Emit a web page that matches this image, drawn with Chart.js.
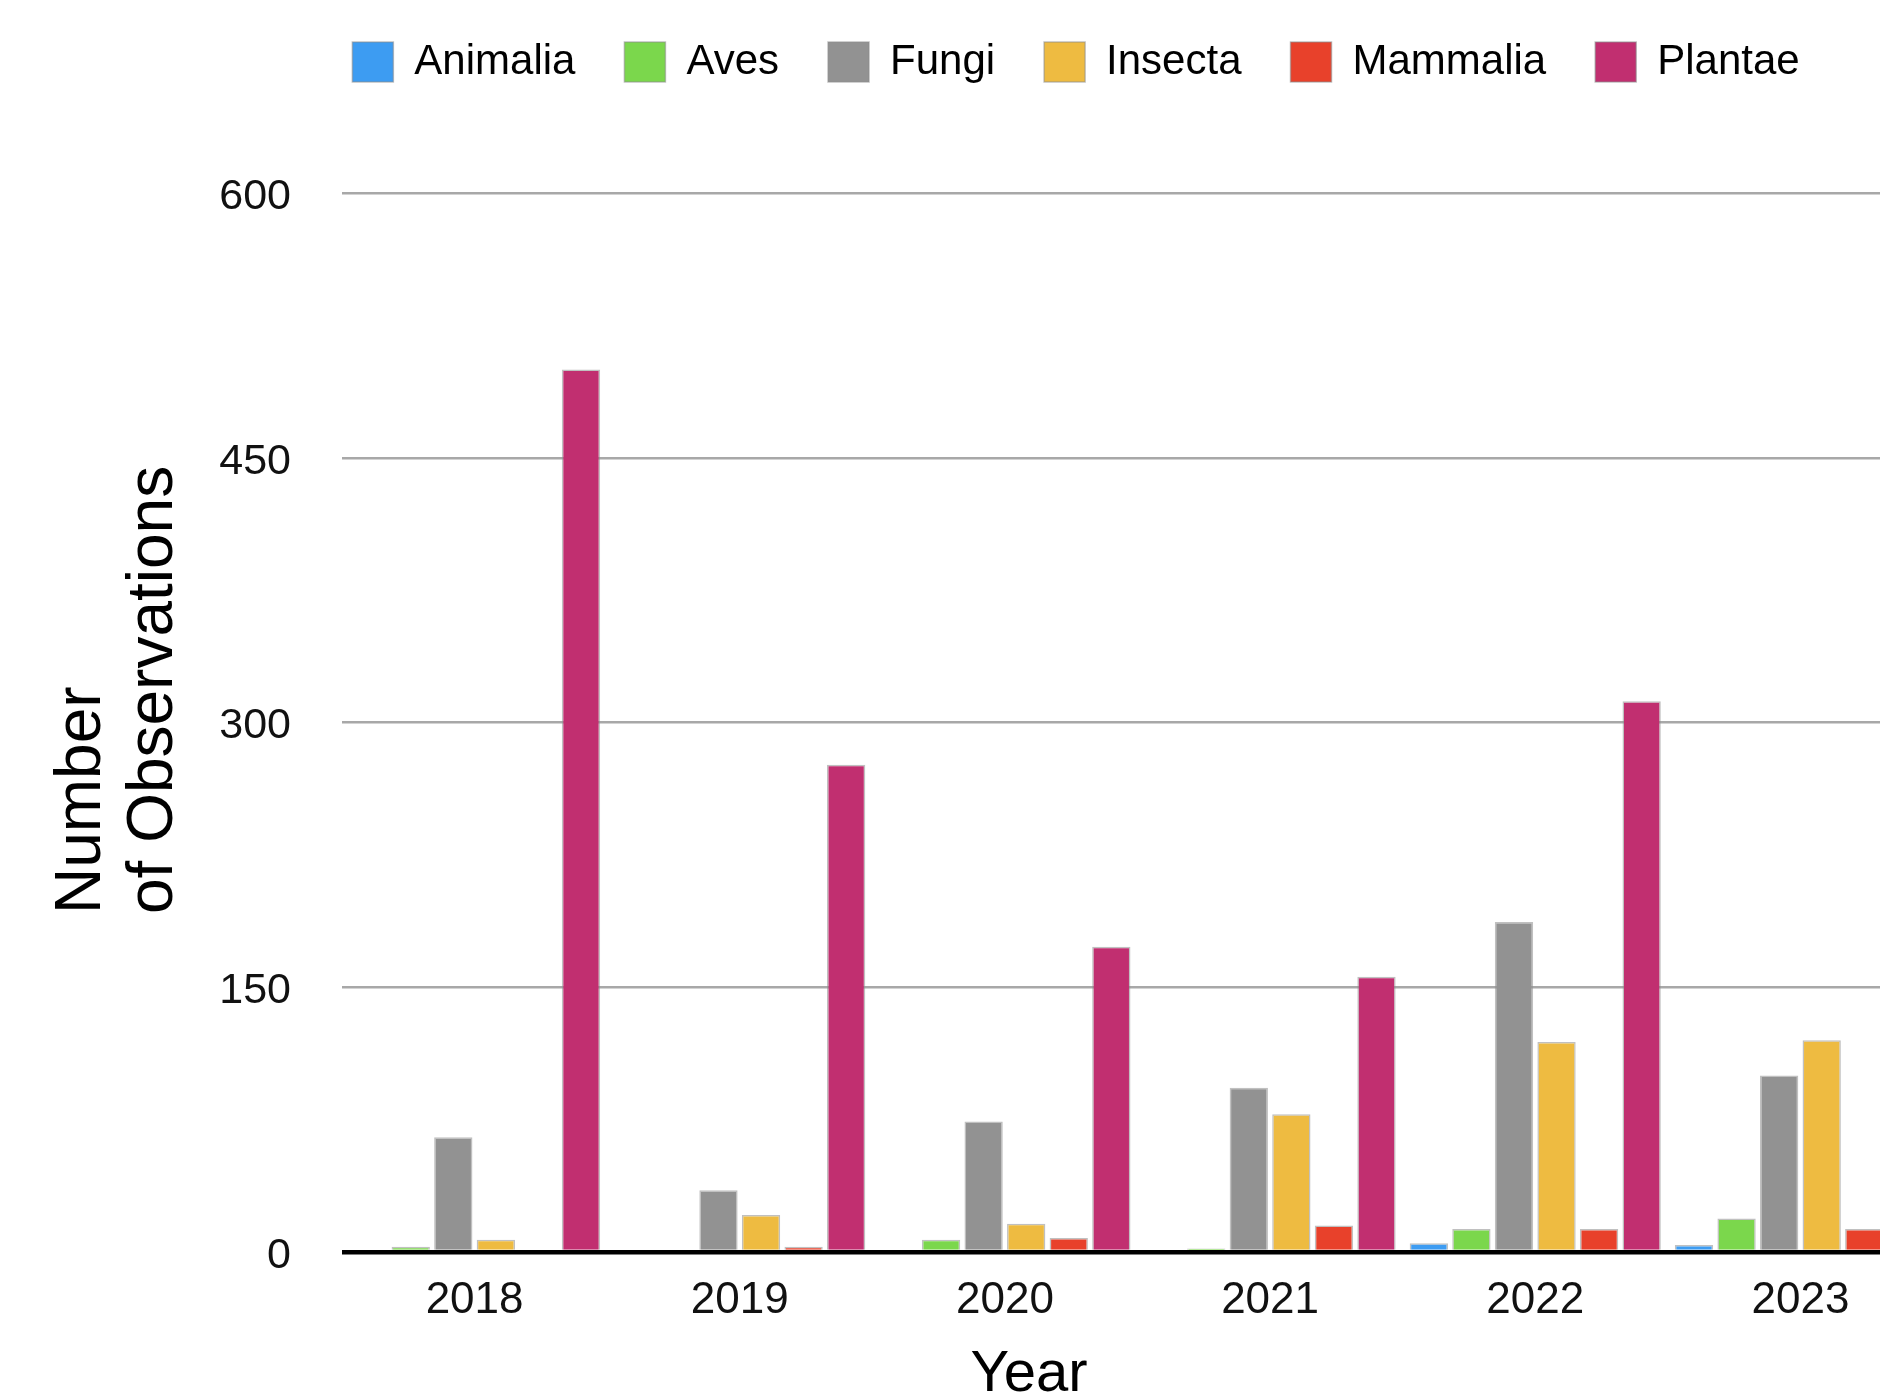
<!DOCTYPE html>
<html>
<head>
<meta charset="utf-8">
<title>Number of Observations by Year</title>
<script src="https://cdn.jsdelivr.net/npm/chart.js@4.4.1/dist/chart.umd.min.js"></script>
<style>
  html, body { margin: 0; padding: 0; background: #fff; overflow: hidden; }
  #wrap { width: 2152px; height: 1396px; }
</style>
</head>
<body>
<div id="wrap"><canvas id="obsChart" width="2152" height="1396"></canvas></div>
<script>
// data
const years = ['2018', '2019', '2020', '2021', '2022', '2023'];
const animalia = [0, 0, 0, 0, 5, 4];
const aves = [3, 0, 7, 2, 13, 19];
const fungi = [65, 35, 74, 93, 187, 100];
const insecta = [7, 21, 16, 78, 119, 120];
const mammalia = [0, 3, 8, 15, 13, 13];
const plantae = [500, 276, 173, 156, 312, null]; // 2023 is cut off in the picture
const yTicks = [0, 150, 300, 450, 600];

const seriesNames = ['Animalia', 'Aves', 'Fungi', 'Insecta', 'Mammalia', 'Plantae'];
const seriesData = [animalia, aves, fungi, insecta, mammalia, plantae];
const seriesColors = ['#3d9cf2', '#7bd74c', '#929292', '#eebb41', '#e8412b', '#c12f70'];

Chart.defaults.font.family = '"Liberation Sans", Arial, sans-serif';
Chart.defaults.color = '#111';

// push the plot down under the legend, and lift the legend a bit
const legendSpace = {
    id: 'legendSpace',
    beforeInit(chart) {
        const legend = chart.legend;
        const fit = legend.fit;
        legend.fit = function () {
            fit.bind(legend)();
            this.height = 193;
        };
        const draw = legend.draw;
        legend.draw = function () {
            chart.ctx.save();
            chart.ctx.translate(0, -8);
            draw.bind(legend)();
            chart.ctx.restore();
        };
    }
};

// axis titles (left aligned two-line y title, off-centre x title)
const axisTitles = {
    id: 'axisTitles',
    afterDraw(chart) {
        const ctx = chart.ctx;
        ctx.save();
        ctx.fillStyle = '#000';
        ctx.font = '64px "Liberation Sans", Arial, sans-serif';
        ctx.textAlign = 'left';
        ctx.textBaseline = 'alphabetic';
        const lines = [['Number', 100], ['of Observations', 172]];
        lines.forEach(([txt, x]) => {
            ctx.save();
            ctx.translate(x, 914);
            ctx.rotate(-Math.PI / 2);
            ctx.fillText(txt, 0, 0);
            ctx.restore();
        });
        ctx.font = '58px "Liberation Sans", Arial, sans-serif';
        ctx.textAlign = 'center';
        ctx.fillText('Year', 1029, 1391);
        ctx.restore();
    }
};

const canvas = document.getElementById('obsChart');

new Chart(canvas, {
    type: 'bar',
    data: {
        labels: years,
        datasets: seriesNames.map((name, i) => ({
            label: name,
            data: seriesData[i],
            backgroundColor: seriesColors[i],
            borderColor: 'rgba(140,140,140,0.55)',
            borderWidth: 1.5,
            categoryPercentage: 0.963,
            barPercentage: 0.9
        }))
    },
    options: {
        responsive: false,
        animation: false,
        devicePixelRatio: 1,
        layout: { padding: 0 },
        plugins: {
            tooltip: { enabled: false },
            legend: {
                display: true,
                position: 'top',
                align: 'center',
                labels: {
                    boxWidth: 41,
                    boxHeight: 40,
                    padding: 49,
                    color: '#000',
                    font: { size: 42 }
                }
            }
        },
        scales: {
            x: {
                grid: { display: false },
                border: { display: false },
                ticks: { font: { size: 44 }, color: '#111', padding: 14 },
                afterFit: s => { s.height = 144; }
            },
            y: {
                min: 0,
                max: 600,
                afterBuildTicks: s => { s.ticks = yTicks.map(v => ({ value: v })); },
                grid: {
                    drawTicks: false,
                    color: c => c.tick && c.tick.value === 0 ? '#000' : '#a8a8a8',
                    lineWidth: c => c.tick && c.tick.value === 0 ? 4.5 : 2.5
                },
                border: { display: false },
                ticks: { font: { size: 43 }, color: '#111', padding: 51, labelOffset: 4 },
                afterFit: s => { s.width = 342; }
            },
            // empty right-hand box so the legend centres like the original
            yR: {
                type: 'linear',
                position: 'right',
                grid: { display: false },
                border: { display: false },
                ticks: { display: false },
                afterFit: s => { s.width = 219; }
            }
        }
    },
    plugins: [legendSpace, axisTitles]
});
</script>
</body>
</html>
